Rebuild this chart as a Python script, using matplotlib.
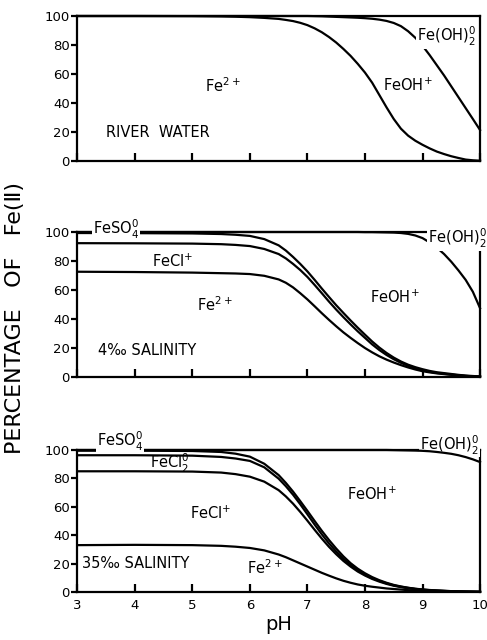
import matplotlib.pyplot as plt

# pH grid shared by all three panels
ph = [3, 4, 5, 5.5, 5.75, 6, 6.25, 6.5, 6.625, 6.75, 6.875, 7, 7.125, 7.25,
      7.375, 7.5, 7.625, 7.75, 7.875, 8, 8.125, 8.25, 8.375, 8.5, 8.625, 8.75,
      8.875, 9, 9.125, 9.25, 9.375, 9.5, 9.625, 9.75, 9.875, 10]

# cumulative percentage boundaries, river water
river_fe2 = [100, 100, 99.9, 99.7, 99.5, 99.2, 98.7, 98.0, 97.3, 96.5, 95.3, 93.7,
             91.5, 88.8, 85.5, 81.7, 77.3, 72.5, 67, 61, 54, 45.5, 37, 29, 22.3,
             17.5, 14, 11.2, 8.7, 6.5, 4.8, 3.3, 2.1, 1.0, 0.5, 0.2]
river_feoh = [100, 100, 100, 100, 100, 100, 100, 100, 100, 100, 100, 100, 99.9,
              99.8, 99.6, 99.4, 99.2, 99.0, 98.8, 98.5, 98.1, 97.5, 96.6, 95.2,
              93, 89.5, 85, 79.5, 73, 66, 59, 51.5, 44, 36.5, 29, 21.4]

# 4 per mil salinity
s4_fe2 = [72.6, 72.4, 72, 71.6, 71.4, 71, 69.8, 67.3, 65, 61.8, 57.8, 53.5, 48.8,
          44, 39.4, 35, 30.8, 27, 23.4, 20, 17, 14.3, 12, 10, 8.2, 6.6, 5.2, 4,
          3.2, 2.5, 2, 1.5, 1.1, 0.7, 0.5, 0.3]
s4_fecl = [92.3, 92.2, 92, 91.6, 91.1, 90.3, 88.3, 84.8, 81.8, 78, 73.8, 69, 63.5,
           57.8, 52, 46.5, 41.3, 36.3, 31.5, 27, 22.5, 18.6, 15.2, 12.3, 9.8, 7.7,
           6, 4.6, 3.6, 2.8, 2.2, 1.7, 1.2, 0.8, 0.5, 0.3]
s4_feso4 = [99.3, 99.2, 99, 98.6, 98.1, 97.3, 95.1, 90.8, 87.2, 82.8, 78, 72.8,
            67, 61, 55.2, 49.5, 44.2, 39, 34, 29.2, 24.5, 20.3, 16.6, 13.4, 10.7,
            8.5, 6.8, 5.4, 4.2, 3.3, 2.7, 2.1, 1.5, 1.0, 0.7, 0.4]
s4_feoh = [100, 100, 100, 100, 100, 100, 100, 100, 100, 100, 100, 100, 100, 100,
           100, 100, 100, 100, 100, 99.9, 99.9, 99.8, 99.7, 99.6, 99.3, 98.7,
           97.6, 95.8, 92.8, 89.2, 84.8, 79.5, 73.5, 67, 58.8, 47.5]

# 35 per mil salinity
s35_fe2 = [33, 33.2, 33, 32.5, 31.9, 31, 29.3, 26.4, 24.5, 22.3, 20.1, 17.9, 15.7,
           13.5, 11.5, 9.6, 7.9, 6.5, 5.3, 4.4, 3.7, 3.1, 2.5, 2.1, 1.7, 1.3, 1.0,
           0.8, 0.6, 0.5, 0.4, 0.3, 0.25, 0.2, 0.15, 0.1]
s35_fecl = [85, 85, 84.8, 84.1, 83, 81.2, 77.7, 71.7, 67.3, 62.2, 56.4, 50.2, 43.8,
            37.6, 31.8, 26.6, 21.9, 17.9, 14.4, 11.6, 9.2, 7.3, 5.7, 4.4, 3.4, 2.6,
            2.0, 1.5, 1.2, 0.9, 0.7, 0.5, 0.4, 0.3, 0.2, 0.1]
s35_fecl2 = [96.3, 96.3, 96, 95.1, 94, 92.3, 87.8, 79.8, 74.5, 68.5, 61.8, 54.7,
             47.5, 40.6, 34.2, 28.5, 23.4, 19.1, 15.4, 12.4, 9.8, 7.8, 6.1, 4.7,
             3.7, 2.9, 2.2, 1.7, 1.3, 1.0, 0.8, 0.6, 0.45, 0.3, 0.2, 0.1]
s35_feso4 = [99.5, 99.5, 99.3, 98.6, 97.4, 95.3, 90.3, 82.3, 76.8, 70.7, 64, 57.1,
             50, 43.1, 36.6, 30.6, 25.1, 20.3, 16.4, 13.2, 10.5, 8.3, 6.5, 5.0,
             3.9, 3.0, 2.3, 1.8, 1.4, 1.1, 0.8, 0.6, 0.45, 0.3, 0.2, 0.15]
s35_feoh = [100, 100, 100, 100, 100, 100, 100, 100, 100, 100, 100, 100, 100, 100,
            100, 100, 100, 100, 100, 100, 100, 100, 100, 99.9, 99.8, 99.7, 99.6,
            99.4, 99.1, 98.6, 98, 97.3, 96.3, 95, 93.4, 91.5]

LW = 1.6
FS = 10.5
white = dict(facecolor="white", edgecolor="none", pad=0.6)

fig = plt.figure(figsize=(4.87, 6.4), dpi=100)
ax1 = fig.add_axes([0.1587, 0.7484, 0.827, 0.2266])
ax2 = fig.add_axes([0.1587, 0.4109, 0.827, 0.2266])
ax3 = fig.add_axes([0.1587, 0.075, 0.827, 0.2219])


def setup(ax, bottom=False):
    ax.set_xlim(3, 10)
    ax.set_ylim(0, 100)
    ax.set_xticks(range(3, 11))
    ax.set_yticks(range(0, 101, 20))
    ax.tick_params(axis="x", direction="in", length=6, width=LW, pad=5,
                   labelsize=9.5, labelbottom=bottom)
    ax.tick_params(axis="y", direction="out", length=4, width=LW, pad=1.5,
                   labelsize=9.5)
    for sp in ax.spines.values():
        sp.set_linewidth(LW)


for ax in (ax1, ax2, ax3):
    setup(ax, bottom=(ax is ax3))

# river water
for curve in (river_fe2, river_feoh):
    ax1.plot(ph, curve, color="black", lw=LW, zorder=2.8, clip_on=False)
ax1.text(5.22, 52, "Fe$^{2+}$", fontsize=FS, va="center")
ax1.text(3.5, 20, "RIVER  WATER", fontsize=FS, va="center")
ax1.text(8.32, 52, "FeOH$^{+}$", fontsize=FS, va="center")
ax1.text(8.9, 86, "Fe(OH)$_2^0$", fontsize=FS, va="center", bbox=white)

# 4 per mil
for curve in (s4_fe2, s4_fecl, s4_feso4, s4_feoh):
    ax2.plot(ph, curve, color="black", lw=LW, zorder=2.8, clip_on=False)
ax2.text(3.27, 102, "FeSO$_4^0$", fontsize=FS, va="center", bbox=white)
ax2.text(9.1, 95.5, "Fe(OH)$_2^0$", fontsize=FS, va="center", bbox=white)
ax2.text(4.3, 80, "FeCl$^{+}$", fontsize=FS, va="center")
ax2.text(5.08, 49.7, "Fe$^{2+}$", fontsize=FS, va="center")
ax2.text(8.09, 55, "FeOH$^{+}$", fontsize=FS, va="center")
ax2.text(3.36, 18.6, "4\u2030 SALINITY", fontsize=FS, va="center")

# 35 per mil
for curve in (s35_fe2, s35_fecl, s35_fecl2, s35_feso4, s35_feoh):
    ax3.plot(ph, curve, color="black", lw=LW, zorder=2.8, clip_on=False)
ax3.text(3.34, 106, "FeSO$_4^0$", fontsize=FS, va="center", bbox=white)
ax3.text(4.27, 90.5, "FeCl$_2^0$", fontsize=FS, va="center")
ax3.text(4.96, 55.4, "FeCl$^{+}$", fontsize=FS, va="center")
ax3.text(7.69, 69, "FeOH$^{+}$", fontsize=FS, va="center")
ax3.text(8.95, 103.5, "Fe(OH)$_2^0$", fontsize=FS, va="center", bbox=white,
         zorder=2.7)
ax3.text(3.08, 20.2, "35\u2030 SALINITY", fontsize=FS, va="center")
ax3.text(5.95, 17, "Fe$^{2+}$", fontsize=FS, va="center")
ax3.set_xlabel("pH", fontsize=14, labelpad=2)

fig.text(0.031, 0.503, "PERCENTAGE   OF   Fe(\u2161)", rotation=90,
         fontsize=16, ha="center", va="center")

fig.savefig("out.png", dpi=100)
